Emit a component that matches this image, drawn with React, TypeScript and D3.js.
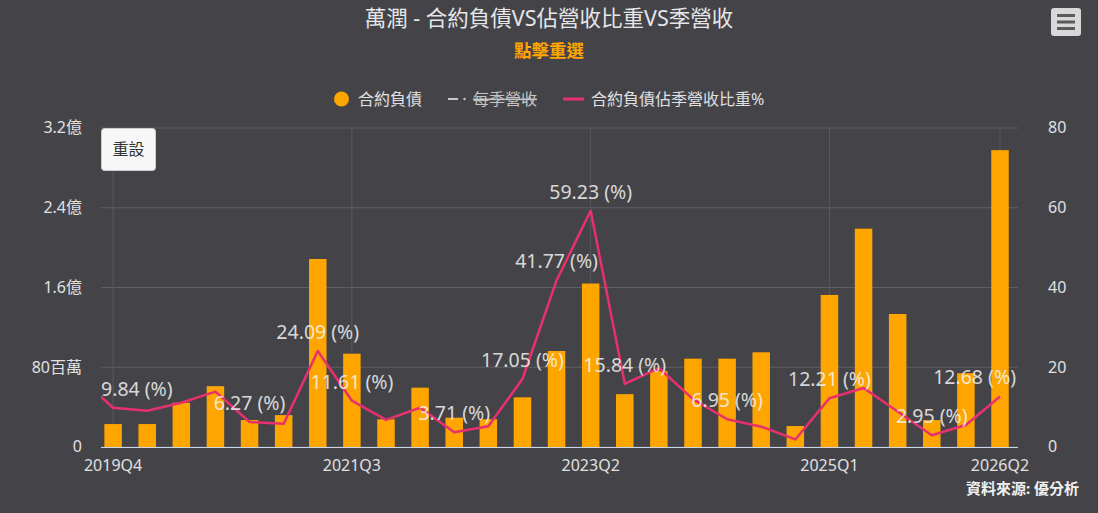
import React, { useRef, useEffect } from 'react';
import * as d3 from 'd3';

// Quarters (2019Q3 sits just left of the zoomed view and is clipped)
const quarters = [
  '2019Q3', '2019Q4', '2020Q1', '2020Q2', '2020Q3', '2020Q4', '2021Q1', '2021Q2',
  '2021Q3', '2021Q4', '2022Q1', '2022Q2', '2022Q3', '2022Q4', '2023Q1', '2023Q2',
  '2023Q3', '2023Q4', '2024Q1', '2024Q2', '2024Q3', '2024Q4', '2025Q1', '2025Q2',
  '2025Q3', '2025Q4', '2026Q1', '2026Q2',
];

// 合約負債 (百萬)
const contractLiabilities = [
  20, 23, 23, 44.4, 61, 27, 32, 188.6,
  93.6, 27.8, 59.5, 29.4, 27.8, 49.8, 96.3, 164,
  53, 76, 88.6, 88.6, 95, 21, 152.5, 219,
  133.4, 27, 74, 297.8,
];

// 合約負債佔季營收比重 (%)
const liabilityRatio = [
  17.5, 9.84, 9.1, 11.1, 13.9, 6.27, 5.8, 24.09,
  11.61, 6.8, 9.85, 3.71, 5.2, 17.05, 41.77, 59.23,
  15.84, 19.8, 12.0, 6.95, 5.1, 1.9, 12.21, 14.8,
  8.9, 2.95, 5.5, 12.68,
];

// points whose data label survives the overlap check
const labelledQuarters = [
  '2019Q4', '2020Q4', '2021Q2', '2021Q3', '2022Q2', '2022Q4', '2023Q1',
  '2023Q2', '2023Q3', '2024Q2', '2025Q1', '2025Q4', '2026Q2',
];

const xTickQuarters = ['2019Q4', '2021Q3', '2023Q2', '2025Q1', '2026Q2'];
const leftTicks = [0, 80, 160, 240, 320];
const leftTickLabels = ['0', '80百萬', '1.6億', '2.4億', '3.2億'];
const rightTicks = [0, 20, 40, 60, 80];

const legendItems = ['合約負債', '每季營收', '合約負債佔季營收比重%'];

const FONT = "'Noto Sans', 'Noto Sans CJK TC', sans-serif";
const BG = '#444448';
const TEXT = '#e0e0e3';
const ORANGE = '#FFA500';
const PINK = '#E8306E';

const App = () => {
  const chartRef = useRef<SVGSVGElement | null>(null);

  const width = 1098;
  const height = 513;
  const plot = { left: 101, right: 1018, top: 128, bottom: 447 };

  useEffect(() => {
    if (!chartRef.current) return;
    const svg = d3.select(chartRef.current);
    svg.selectAll('*').remove();

    svg.append('rect').attr('width', width).attr('height', height).attr('fill', BG);

    // Scales
    const xScale = d3.scalePoint<string>().domain(quarters).range([79, 1000]);
    const yLeft = d3.scaleLinear().domain([0, 320]).range([plot.bottom, plot.top]);
    const yRight = d3.scaleLinear().domain([0, 80]).range([plot.bottom, plot.top]);

    svg
      .append('defs')
      .append('clipPath')
      .attr('id', 'plot-clip')
      .append('rect')
      .attr('x', plot.left)
      .attr('y', plot.top - 5)
      .attr('width', plot.right - plot.left)
      .attr('height', plot.bottom - plot.top + 5);

    // Title / subtitle
    svg
      .append('text')
      .attr('x', width / 2)
      .attr('y', 26)
      .attr('text-anchor', 'middle')
      .style('font-family', FONT)
      .style('font-size', '21.5px')
      .style('fill', '#e6e6e8')
      .text('萬潤 - 合約負債VS佔營收比重VS季營收');

    svg
      .append('text')
      .attr('x', width / 2)
      .attr('y', 57)
      .attr('text-anchor', 'middle')
      .style('font-family', FONT)
      .style('font-size', '17.5px')
      .style('font-weight', 'bold')
      .style('fill', ORANGE)
      .text('點擊重選');

    // Menu button
    const menu = svg.append('g');
    menu
      .append('rect')
      .attr('x', 1051)
      .attr('y', 8)
      .attr('width', 30)
      .attr('height', 28)
      .attr('rx', 3)
      .attr('fill', '#d8d8d8');
    [15.5, 22, 28.5].forEach((y) => {
      menu
        .append('line')
        .attr('x1', 1057)
        .attr('x2', 1075)
        .attr('y1', y)
        .attr('y2', y)
        .attr('stroke', '#5a5a5a')
        .attr('stroke-width', 3);
    });

    // Legend
    const legend = svg.append('g').style('font-family', FONT).style('font-size', '16px');
    legend.append('circle').attr('cx', 341.5).attr('cy', 99).attr('r', 7.5).attr('fill', ORANGE);
    legend.append('text').attr('x', 358).attr('y', 105).style('fill', TEXT).text(legendItems[0]);
    legend
      .append('line')
      .attr('x1', 448)
      .attr('x2', 458)
      .attr('y1', 99)
      .attr('y2', 99)
      .attr('stroke', '#c8c8c8')
      .attr('stroke-width', 2);
    legend.append('circle').attr('cx', 464.5).attr('cy', 99).attr('r', 1.2).attr('fill', '#c8c8c8');
    legend
      .append('text')
      .attr('x', 473)
      .attr('y', 105)
      .style('fill', '#c4c4c4')
      .style('text-decoration', 'line-through')
      .text(legendItems[1]);
    legend
      .append('line')
      .attr('x1', 563)
      .attr('x2', 584)
      .attr('y1', 99)
      .attr('y2', 99)
      .attr('stroke', PINK)
      .attr('stroke-width', 3);
    legend.append('text').attr('x', 591).attr('y', 105).style('fill', TEXT).text(legendItems[2]);

    // Horizontal gridlines
    svg
      .append('g')
      .selectAll('line')
      .data(leftTicks)
      .enter()
      .append('line')
      .attr('x1', plot.left)
      .attr('x2', plot.right)
      .attr('y1', (d) => yLeft(d))
      .attr('y2', (d) => yLeft(d))
      .attr('stroke', '#5e5e63')
      .attr('stroke-width', 1);

    // Vertical gridlines
    svg
      .append('g')
      .selectAll('line')
      .data(xTickQuarters)
      .enter()
      .append('line')
      .attr('x1', (d) => xScale(d) ?? 0)
      .attr('x2', (d) => xScale(d) ?? 0)
      .attr('y1', plot.top)
      .attr('y2', plot.bottom)
      .attr('stroke', '#58585d')
      .attr('stroke-width', 1);

    // Axis labels
    const axisText = svg.append('g').style('font-family', FONT).style('font-size', '16px').style('fill', TEXT);
    axisText
      .selectAll('.yl')
      .data(leftTicks)
      .enter()
      .append('text')
      .attr('class', 'yl')
      .attr('x', 82)
      .attr('y', (d) => yLeft(d))
      .attr('dy', '0.33em')
      .attr('text-anchor', 'end')
      .text((_, i) => leftTickLabels[i]);
    axisText
      .selectAll('.yr')
      .data(rightTicks)
      .enter()
      .append('text')
      .attr('class', 'yr')
      .attr('x', 1048)
      .attr('y', (d) => yRight(d))
      .attr('dy', '0.33em')
      .attr('text-anchor', 'start')
      .text((d) => String(d));
    axisText
      .selectAll('.xl')
      .data(xTickQuarters)
      .enter()
      .append('text')
      .attr('class', 'xl')
      .attr('x', (d) => xScale(d) ?? 0)
      .attr('y', 471)
      .attr('text-anchor', 'middle')
      .text((d) => d);

    // Bars
    const chart = svg.append('g').attr('clip-path', 'url(#plot-clip)');
    const barWidth = 17.5;
    chart
      .selectAll('.bar')
      .data(quarters)
      .enter()
      .append('rect')
      .attr('class', 'bar')
      .attr('x', (d) => (xScale(d) ?? 0) - barWidth / 2)
      .attr('y', (_, i) => yLeft(contractLiabilities[i]))
      .attr('width', barWidth)
      .attr('height', (_, i) => plot.bottom - yLeft(contractLiabilities[i]))
      .attr('fill', ORANGE);

    // x axis line
    svg
      .append('line')
      .attr('x1', plot.left)
      .attr('x2', plot.right)
      .attr('y1', plot.bottom + 0.5)
      .attr('y2', plot.bottom + 0.5)
      .attr('stroke', '#ccd6eb')
      .attr('stroke-width', 1);

    // Ratio line
    const line = d3
      .line<string>()
      .x((d) => xScale(d) ?? 0)
      .y((_, i) => yRight(liabilityRatio[i]));
    chart
      .append('path')
      .datum(quarters)
      .attr('d', line)
      .attr('fill', 'none')
      .attr('stroke', PINK)
      .attr('stroke-width', 2.5)
      .attr('stroke-linejoin', 'round');

    // Data labels
    const labels = svg.append('g').style('font-family', FONT).style('font-size', '19.5px');
    labelledQuarters.forEach((q) => {
      const i = quarters.indexOf(q);
      const px = xScale(q) ?? 0;
      const py = yRight(liabilityRatio[i]);
      const t = labels
        .append('text')
        .attr('x', px)
        .attr('y', py - 12)
        .attr('text-anchor', 'middle')
        .style('fill', '#f4f4f4')
        .style('fill-opacity', 0.85)
        .text(`${liabilityRatio[i].toFixed(2)} (%)`);
      const w = (t.node() as SVGTextElement).getComputedTextLength();
      let cx = px;
      if (cx - w / 2 < plot.left) cx = plot.left + w / 2;
      if (cx + w / 2 > plot.right - 2) cx = plot.right - 2 - w / 2;
      t.attr('x', cx);
    });

    // Reset zoom button
    const reset = svg.append('g');
    reset
      .append('rect')
      .attr('x', 101.5)
      .attr('y', 128.5)
      .attr('width', 54)
      .attr('height', 42)
      .attr('rx', 3)
      .attr('fill', '#f7f7f7')
      .attr('stroke', '#cccccc');
    reset
      .append('text')
      .attr('x', 128.5)
      .attr('y', 155)
      .attr('text-anchor', 'middle')
      .style('font-family', FONT)
      .style('font-size', '16px')
      .style('fill', '#333333')
      .text('重設');

    // Credits
    svg
      .append('text')
      .attr('x', 1079)
      .attr('y', 494)
      .attr('text-anchor', 'end')
      .style('font-family', FONT)
      .style('font-size', '15px')
      .style('font-weight', 'bold')
      .style('fill', '#f0f0f0')
      .text('資料來源: 優分析');
  }, []);

  return (
    <div style={{ position: 'absolute', left: 0, top: 0, width, height }}>
      <svg ref={chartRef} width={width} height={height} style={{ display: 'block' }} />
    </div>
  );
};

export default App;
